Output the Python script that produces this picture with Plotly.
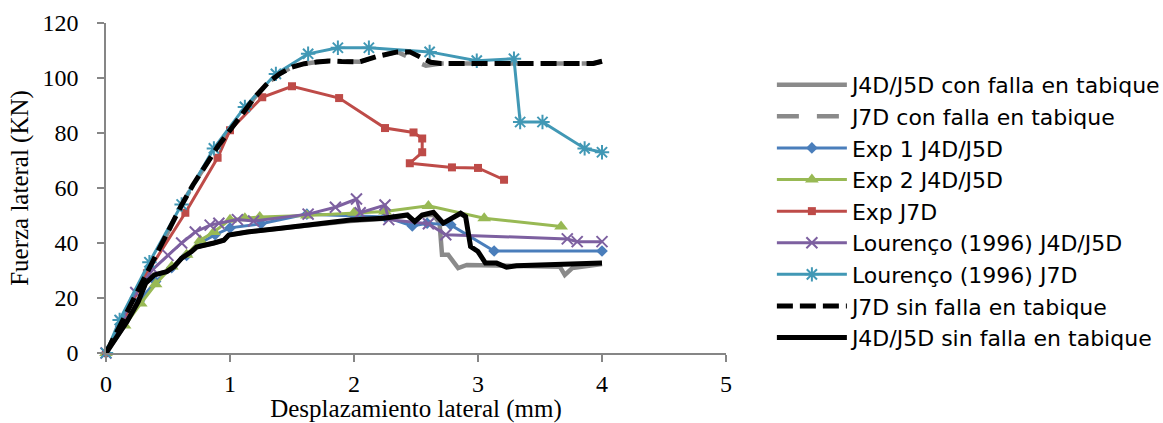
import plotly.graph_objects as go

# Curvas fuerza-desplazamiento (desplazamiento en mm, fuerza en kN)

# J4D/J5D con falla en tabique
x_j45_con = [0, 0.17, 0.26, 0.32, 0.39, 0.49, 0.55, 0.61, 0.69, 0.73, 0.87, 0.95, 0.99, 1.14, 1.41,
             1.73, 1.97, 2.24, 2.43, 2.49, 2.55, 2.64, 2.69, 2.71, 2.76, 2.84, 2.91, 3.66, 3.70, 3.76, 4.0]
y_j45_con = [0, 11.5, 18.7, 25.4, 28.4, 29.6, 31.4, 34.5, 36.9, 38.5, 40.0, 41.0, 42.9, 44.0, 45.4,
             47.0, 48.0, 48.8, 50.0, 47.8, 50.0, 50.3, 47.2, 35.7, 35.7, 30.9, 32.0, 31.4, 28.4, 30.9, 32.4]

# J7D con falla en tabique
x_j7_con = [0, 0.1, 0.2, 0.3, 0.4, 0.5, 0.6, 0.7, 0.8, 0.9, 1.0, 1.1, 1.2, 1.3, 1.4, 1.5, 1.6, 1.7,
            1.8, 1.9, 2.05, 2.2, 2.35, 2.42, 2.5, 2.58, 2.7, 3.93, 4.0]
y_j7_con = [0, 9, 18, 27, 35, 44, 53, 61, 68, 75, 81, 87, 93, 98, 101.5, 104, 105.2, 105.8,
            106.2, 106, 105.9, 108, 109.5, 108, 106, 104.5, 105.3, 105.3, 106.1]

# Exp 1 J4D/J5D
x_exp1 = [0, 0.13, 0.27, 0.4, 0.53, 0.65, 0.76, 0.88, 1.0, 1.25, 1.62, 2.0, 2.25, 2.47, 2.59, 2.78, 3.13, 4.0]
y_exp1 = [0, 10, 19, 26, 31, 35.5, 40, 43, 45.5, 47, 50.5, 50, 49.5, 46.2, 47.2, 46.6, 37.1, 37.1]

# Exp 2 J4D/J5D
x_exp2 = [0, 0.15, 0.28, 0.4, 0.53, 0.65, 0.76, 0.87, 1.0, 1.12, 1.24, 1.62, 2.0, 2.25, 2.6, 3.05, 3.67]
y_exp2 = [0, 10, 18, 25, 31.5, 35.7, 41, 44, 48.5, 49, 49.5, 50, 51, 51.5, 53.5, 49, 46]

# Exp J7D
x_exp_j7 = [0, 0.13, 0.33, 0.64, 0.9, 1.0, 1.26, 1.5, 1.88, 2.25, 2.48, 2.55, 2.55, 2.45, 2.79, 3.0, 3.21]
y_exp_j7 = [0, 11, 29, 51, 71, 81, 93, 97, 92.7, 81.8, 80.2, 78, 73, 69, 67.5, 67.3, 63]

# Lourenço (1996) J4D/J5D
x_lou_j45 = [0, 0.12, 0.24, 0.38, 0.5, 0.61, 0.72, 0.84, 0.91, 1.06, 1.19, 1.63, 1.85, 2.02, 2.05,
             2.25, 2.28, 2.6, 2.74, 3.72, 3.8, 4.0]
y_lou_j45 = [0, 11.5, 22, 30.5, 35.5, 40, 44, 46.5, 47.2, 48.5, 48, 50.5, 53, 56, 51,
             53.8, 48.5, 47, 43, 41.5, 40.5, 40.5]

# Lourenço (1996) J7D
x_lou_j7 = [0, 0.11, 0.35, 0.61, 0.87, 1.12, 1.37, 1.63, 1.87, 2.12, 2.61, 2.99, 3.29, 3.34, 3.52, 3.86, 4.0]
y_lou_j7 = [0, 12, 33, 54, 74.4, 89.5, 101.5, 108.8, 111, 111, 109.5, 106.3, 107, 84, 84, 74.4, 73]

# J7D sin falla en tabique
x_j7_sin = [0, 0.1, 0.2, 0.3, 0.4, 0.5, 0.6, 0.7, 0.8, 0.9, 1.0, 1.1, 1.2, 1.3, 1.4, 1.5, 1.6, 1.7,
            1.8, 1.9, 2.05, 2.2, 2.35, 2.45, 2.53, 2.62, 2.7, 3.93, 4.0]
y_j7_sin = [0, 9, 18, 27, 35, 44, 53, 61, 68, 75, 81, 87, 93, 98, 101.5, 104, 105.2, 105.8,
            106.2, 106, 105.9, 108, 109.5, 109.5, 107.7, 105.7, 105.3, 105.3, 106.1]

# J4D/J5D sin falla en tabique
x_j45_sin = [0, 0.17, 0.26, 0.32, 0.39, 0.49, 0.55, 0.61, 0.69, 0.73, 0.87, 0.95, 0.99, 1.14, 1.41,
             1.73, 1.97, 2.24, 2.43, 2.49, 2.55, 2.64, 2.72, 2.86, 2.90, 2.94, 3.0, 3.06, 3.15, 3.23, 3.31, 4.0]
y_j45_sin = [0, 11.5, 18.7, 25.4, 28.4, 29.6, 31.4, 34.5, 36.9, 38.5, 40.0, 41.0, 42.9, 44.0, 45.4,
             47.2, 48.4, 49.0, 50.2, 47.8, 50.2, 51.2, 47.2, 50.8, 49.6, 38.7, 36.9, 32.7, 32.7, 31.2, 31.7, 32.7]

x_ticks = [0, 1, 2, 3, 4, 5]
y_ticks = [0, 20, 40, 60, 80, 100, 120]

fig = go.Figure()


def add(name, x, y, color, width, dash="solid", symbol=None, msize=9, mline=0):
    mode = "lines+markers" if symbol else "lines"
    marker = None
    if symbol:
        marker = dict(symbol=symbol, size=msize, color=color,
                      line=dict(color=color, width=mline))
    fig.add_trace(go.Scatter(
        x=x, y=y, name=name, mode=mode, legendgroup=name,
        line=dict(color=color, width=width, dash=dash),
        marker=marker, cliponaxis=False,
    ))


add("J4D/J5D con falla en tabique", x_j45_con, y_j45_con, "#8a8a8a", 4.5)
add("J7D con falla en tabique", x_j7_con, y_j7_con, "#8a8a8a", 4.5, dash="22px,18px")
add("Exp 1 J4D/J5D", x_exp1, y_exp1, "#4a7ebb", 3, symbol="diamond", msize=9)
add("Exp 2 J4D/J5D", x_exp2, y_exp2, "#98b954", 3, symbol="triangle-up", msize=12)
add("Exp J7D", x_exp_j7, y_exp_j7, "#be4b48", 3, symbol="square", msize=8)
add("Lourenço (1996) J4D/J5D", x_lou_j45, y_lou_j45, "#7d60a0", 3, symbol="x-thin-open", msize=11, mline=2)
add("Lourenço (1996) J7D", x_lou_j7, y_lou_j7, "#4198b5", 3, symbol="asterisk-open", msize=12, mline=2)
add("J7D sin falla en tabique", x_j7_sin, y_j7_sin, "#000000", 5, dash="16px,7px")
add("J4D/J5D sin falla en tabique", x_j45_sin, y_j45_sin, "#000000", 5)

axis_common = dict(
    showgrid=False, zeroline=False, showline=True, linecolor="#868686", linewidth=1.5,
    ticks="outside", ticklen=7, tickwidth=1.5, tickcolor="#868686", automargin=False,
    tickfont=dict(family="Liberation Serif", size=24, color="#000000"),
)

fig.update_layout(
    width=1163, height=423,
    margin=dict(l=105.5, r=437.3, t=22.7, b=69.7, autoexpand=False),
    paper_bgcolor="white", plot_bgcolor="white",
    xaxis=dict(range=[0, 5], tickvals=x_ticks, ticklabelstandoff=1,
               title=dict(text="Desplazamiento lateral (mm)", standoff=12,
                          font=dict(family="Liberation Serif", size=25, color="#000000")),
               **axis_common),
    yaxis=dict(range=[0, 120], tickvals=y_ticks,
               title=dict(text="Fuerza lateral (KN)", standoff=7,
                          font=dict(family="Liberation Serif", size=25, color="#000000")),
               ticklabelstandoff=14,
               **axis_common),
    legend=dict(
        x=1.074, xanchor="left", y=0.429, yanchor="middle",
        font=dict(family="DejaVu Sans", size=22, color="#000000"),
        itemwidth=70, traceorder="grouped", tracegroupgap=0, maxheight=1,
        bgcolor="rgba(0,0,0,0)",
    ),
    showlegend=True,
)

fig.write_html("out.html")
